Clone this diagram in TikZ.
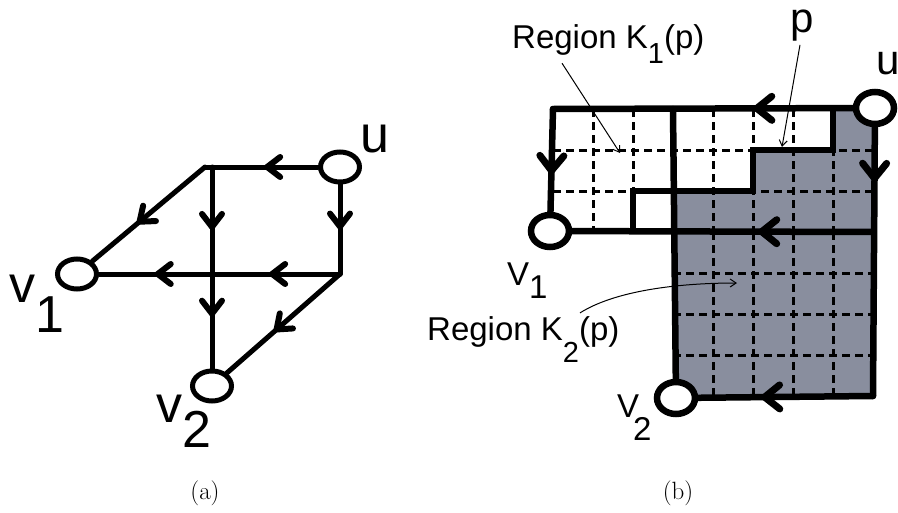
\documentclass[tikz,border=0pt]{standalone}
\usepackage{fontspec}
\usepackage{tikz}
\usetikzlibrary{shapes.geometric,arrows.meta,decorations.markings}
\newfontfamily\labelfont{Liberation Sans}
\definecolor{regiongray}{RGB}{137,142,158}

\begin{document}
\begin{tikzpicture}[
    x=1pt, y=-1pt,
    vertex/.style={ellipse, draw, fill=white, line width=5pt,
        minimum width=39pt, minimum height=30pt, inner sep=0pt},
    bvertex/.style={vertex, line width=6.5pt, minimum width=38pt, minimum height=32pt},
    link/.style={line width=5pt, line cap=round},
    blink/.style={line width=6.5pt, line cap=round},
    midarrow/.style={postaction={decorate}, decoration={markings,
        mark=at position #1 with {\draw[line width=6pt, line join=miter]
            (-13pt,10pt) -- (0pt,0pt) -- (-13pt,-10pt);}}},
    bmidarrow/.style={postaction={decorate}, decoration={markings,
        mark=at position #1 with {\draw[line width=7pt, line join=miter]
            (-15pt,12pt) -- (0pt,0pt) -- (-15pt,-12pt);}}},
    gridline/.style={line width=3pt, dash pattern=on 8pt off 5pt},
    leader/.style={line width=1pt, -{Straight Barb[length=6pt, width=8pt]}},
    alabel/.style={font=\labelfont\fontsize{52}{60}\selectfont, anchor=base west, inner sep=0pt},
    blabel/.style={font=\labelfont\fontsize{42}{50}\selectfont, anchor=base west, inner sep=0pt},
    rlabel/.style={font=\labelfont\fontsize{33}{38}\selectfont, anchor=base west, inner sep=0pt},
    captext/.style={font=\fontsize{25}{30}\selectfont, inner sep=0pt}
]
    \useasboundingbox (0,0) rectangle (898,512);

    % Panel (a)
    \node[vertex] (u) at (340,167) {};
    \node[vertex] (v1) at (77,274) {};
    \node[vertex] (v2) at (212,386) {};
    \coordinate (tl) at (205,167);
    \coordinate (tm) at (212,167);
    \coordinate (ur) at (340,274);
    \coordinate (cm) at (212,274);

    \draw[link, midarrow=0.45] (u) -- (tl);
    \draw[link, midarrow=0.47] (u) -- (ur);
    \draw[link, midarrow=0.58] (tl) -- (v1);
    \draw[link, midarrow=0.53] (ur) -- (cm);
    \draw[link, midarrow=0.48] (cm) -- (v1);
    \draw[link, midarrow=0.56] (tm) -- (cm);
    \draw[link, midarrow=0.42] (cm) -- (v2);
    \draw[link, midarrow=0.56] (ur) -- (v2);

    \node[alabel] (lu) at (360,152) {u};
    \node[alabel] (lv1) at (9,302) {v\raisebox{-30pt}{1}};
    \node[alabel] (lv2) at (156,422) {v\raisebox{-25pt}{2}};

    % Panel (b): grid points
    \foreach \i in {0,...,8}
        \foreach \j in {0,...,7}
            \coordinate (g\i\j) at ({553+40*\i},{109+41*\j});

    % region K_2(p)
    \fill[regiongray] (g37) -- (g87) -- (g80) -- (g70) -- (g71) -- (g51)
        -- (g52) -- (g32) -- cycle;

    % dashed cells
    \foreach \i in {1,2,4,5,6,7}
        \draw[gridline] (g\i0) -- (g\i3);
    \foreach \i in {4,...,7}
        \draw[gridline] (g\i3) -- (g\i7);
    \foreach \j in {1,2}
        \draw[gridline] (g0\j) -- (g8\j);
    \foreach \j in {4,5,6}
        \draw[gridline] (g3\j) -- (g8\j);

    \node[bvertex] (bu) at (875,108) {};
    \node[bvertex] (bv1) at (550,231) {};
    \node[bvertex] (bv2) at (676,398) {};

    \draw[blink, bmidarrow=0.32] (bu) -- (g00);
    \draw[blink, bmidarrow=0.6] (g00) -- (bv1);
    \draw[blink, bmidarrow=0.37] (g83) -- (bv1);
    \draw[blink, bmidarrow=0.19] (bu) -- (g87);
    \draw[blink, bmidarrow=0.62] (g87) -- (bv2);
    \draw[blink] (g30) -- (bv2);
    % path p
    \draw[line width=6.5pt] (g70) -- (g71) -- (g51) -- (g52) -- (g22) -- (g23);

    \node[blabel] (lbu) at (876,74) {u};
    \node[blabel, text height=24pt] (lp) at (790,32) {p};
    \node[rlabel] (lbv1) at (507,285) {V\raisebox{-13pt}{1}};
    \node[rlabel] (lbv2) at (617,417) {V\kern-6pt\raisebox{-23pt}{2}};
    \node[rlabel] (kone) at (512,48) {Region K\raisebox{-15pt}{\fontsize{29}{29}\selectfont 1}(p)};
    \node[rlabel] (ktwo) at (427,340) {Region K\raisebox{-22pt}{\fontsize{29}{29}\selectfont 2}(p)};

    \coordinate (konetip) at (620,153);
    \coordinate (ptip) at (782,147);
    \coordinate (ktwotip) at (737,283);
    \draw[leader] ([xshift=50pt]kone.south west) -- (konetip);
    \draw[leader] ([xshift=10pt, yshift=-4pt]lp.south west) -- (ptip);
    \draw[leader] ([xshift=153pt, yshift=3pt]ktwo.north west)
        .. controls +(35,-22) and +(-60,0) .. (ktwotip);

    \node[captext] (capa) at (205,493) {(a)};
    \node[captext] (capb) at (678,493) {(b)};
\end{tikzpicture}
\end{document}
